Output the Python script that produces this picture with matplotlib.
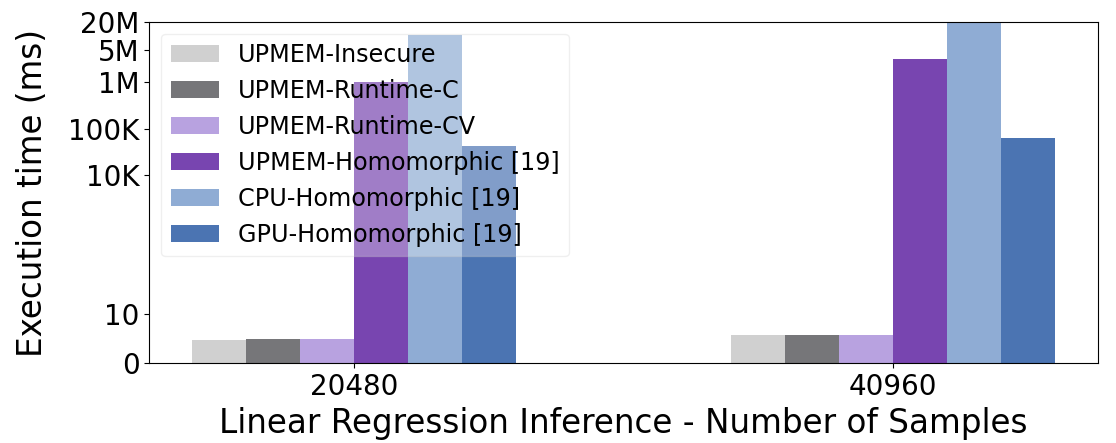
import matplotlib
matplotlib.use("Agg")
import matplotlib.pyplot as plt
import numpy as np
from matplotlib.ticker import FixedLocator, FixedFormatter

categories = ["20480", "40960"]
series_names = ["UPMEM-Insecure", "UPMEM-Runtime-C", "UPMEM-Runtime-CV",
                "UPMEM-Homomorphic [19]", "CPU-Homomorphic [19]", "GPU-Homomorphic [19]"]
upmem_insecure = [4.75, 5.8]
upmem_runtime_c = [5.0, 5.8]
upmem_runtime_cv = [5.0, 5.8]
upmem_homomorphic = [1.0e6, 3.1e6]
cpu_homomorphic = [1.03e7, 2.5e7]
gpu_homomorphic = [4.25e4, 6.2e4]
colors = ["#d0d0d0", "#767679", "#b8a2e0", "#7845b0", "#8facd4", "#4b74b2"]

ytick_values = [0, 10, 1e4, 1e5, 1e6, 5e6, 2e7]
ytick_labels = ["0", "10", "10K", "100K", "1M", "5M", "20M"]

series = [upmem_insecure, upmem_runtime_c, upmem_runtime_cv,
          upmem_homomorphic, cpu_homomorphic, gpu_homomorphic]

fig, ax = plt.subplots(figsize=(11.16, 4.43), dpi=100)
x = np.arange(len(categories))
w = 0.1
n = len(series)
for i, (vals, name, c) in enumerate(zip(series, series_names, colors)):
    ax.bar(x + (i - n / 2 + 0.5) * w, vals, width=w, color=c, label=name, zorder=2)

ax.set_yscale("symlog", linthresh=10, linscale=0.952)
ax.set_ylim(0, 2e7)
ax.yaxis.set_major_locator(FixedLocator(ytick_values))
ax.yaxis.set_major_formatter(FixedFormatter(ytick_labels))
ax.yaxis.set_minor_locator(FixedLocator([]))
ax.set_xticks(x)
ax.set_xticklabels(categories)
ax.tick_params(axis="both", labelsize=20)
ax.set_ylabel("Execution time (ms)", fontsize=23.5, labelpad=14)
ax.set_xlabel("Linear Regression Inference - Number of Samples", fontsize=23.5, labelpad=4)
ax.legend(loc="upper left", fontsize=17.2, framealpha=0.3, labelspacing=0.5)

fig.subplots_adjust(left=0.1338, right=0.9836, top=0.951, bottom=0.1799)
fig.savefig("out.png", dpi=100)
